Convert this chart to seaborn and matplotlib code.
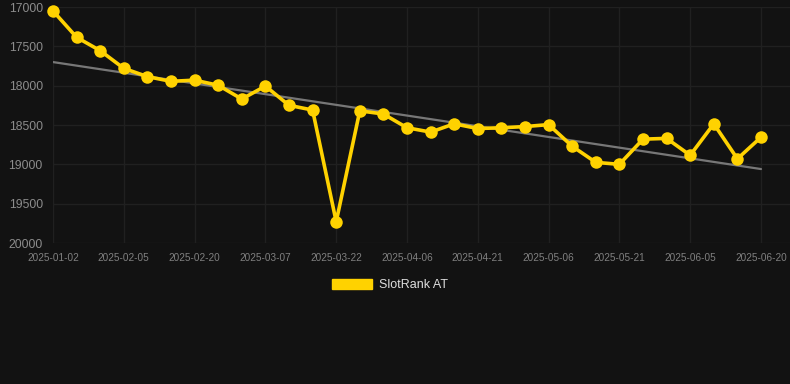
import matplotlib
matplotlib.use("Agg")
import matplotlib.pyplot as plt
import seaborn as sns
import numpy as np
import pandas as pd
from matplotlib.patches import Patch

# ---- data ----
dates = ["2025-01-02", "2025-01-14", "2025-01-25", "2025-02-05", "2025-02-10",
         "2025-02-15", "2025-02-20", "2025-02-25", "2025-03-02", "2025-03-07",
         "2025-03-12", "2025-03-17", "2025-03-22", "2025-03-27", "2025-04-01",
         "2025-04-06", "2025-04-11", "2025-04-16", "2025-04-21", "2025-04-26",
         "2025-05-01", "2025-05-06", "2025-05-11", "2025-05-16", "2025-05-21",
         "2025-05-26", "2025-05-31", "2025-06-05", "2025-06-10", "2025-06-15",
         "2025-06-20"]
rank = [17050, 17385, 17555, 17780, 17885, 17945, 17930, 17995, 18170, 18005,
        18250, 18310, 19730, 18320, 18360, 18535, 18590, 18485, 18545, 18535,
        18520, 18495, 18770, 18975, 19000, 18680, 18670, 18885, 18485, 18930,
        18655]
trend_ends = [17700, 19060]
y_ticks = [17000, 17500, 18000, 18500, 19000, 19500, 20000]
series_name = "SlotRank AT"

BG = "#121212"
GRID = "#202020"
YELLOW = "#FFD200"

sns.set_theme(style="dark")
plt.rcParams["font.family"] = ["Liberation Sans", "DejaVu Sans"]

fig = plt.figure(figsize=(7.9, 3.84), dpi=100, facecolor=BG)
ax = fig.add_axes([53 / 790, 1 - 243 / 384, 1 - 53 / 790, (243 - 7) / 384])
ax.set_facecolor(BG)

df = pd.DataFrame({"idx": np.arange(len(dates)), "rank": rank})
tdf = pd.DataFrame({"idx": [0, len(dates) - 1], "rank": trend_ends})

sns.lineplot(data=tdf, x="idx", y="rank", ax=ax, color="#777777", linewidth=1.6, zorder=2)
sns.lineplot(data=df, x="idx", y="rank", ax=ax, color=YELLOW, linewidth=2.6,
             marker="o", markersize=9, markeredgewidth=0, zorder=3, clip_on=False)

n = len(dates)
ax.set_xlim(0, (n - 1) + 29 / 23.6)
ax.set_ylim(20000, 17000)
ax.set_yticks(y_ticks)
ax.set_yticklabels([str(t) for t in y_ticks])
tick_idx = [0] + list(range(3, n, 3))
ax.set_xticks(tick_idx)
ax.set_xticklabels([dates[i] for i in tick_idx])

ax.grid(True, color=GRID, linewidth=1)
for s in ax.spines.values():
    s.set_visible(False)
ax.tick_params(axis="y", colors=GRID, labelcolor="#8c8c8c", labelsize=8.8,
               length=5.8, width=1, pad=1.5)
ax.tick_params(axis="x", colors=GRID, labelcolor="#808080", labelsize=7.2,
               length=5.5, width=1, pad=2)
ax.set_xlabel("")
ax.set_ylabel("")

handles = [Patch(facecolor=YELLOW, edgecolor=YELLOW)]
fig.legend(handles, [series_name], loc="center", bbox_to_anchor=(390 / 790, 1 - 285 / 384),
           frameon=False, fontsize=9, labelcolor="#dddddd", handlelength=3.2,
           handleheight=0.95, handletextpad=0.6)

fig.savefig("out.png", dpi=100, facecolor=BG)
